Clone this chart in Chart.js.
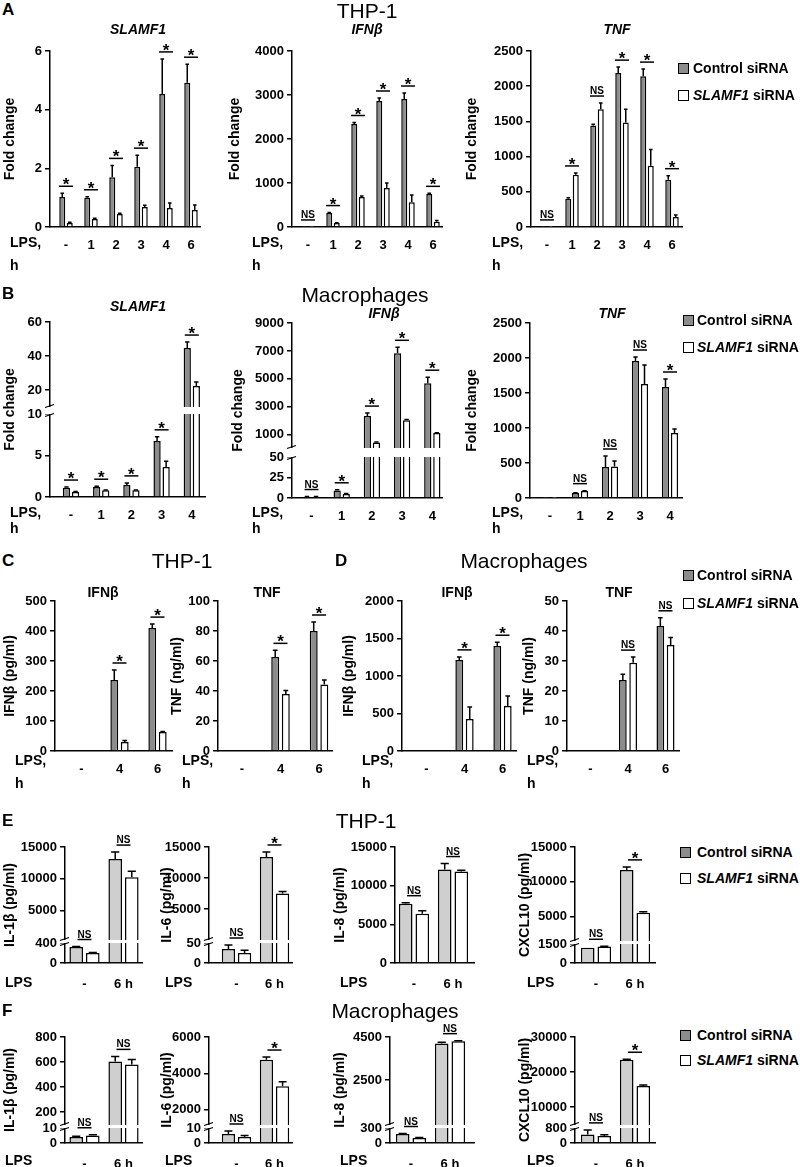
<!DOCTYPE html>
<html><head><meta charset="utf-8">
<script src="https://cdn.jsdelivr.net/npm/chart.js@4/dist/chart.umd.min.js"></script>
<style>
html,body{margin:0;padding:0;background:#fff;}
body{width:800px;height:1167px;position:relative;overflow:hidden;font-family:"Liberation Sans",Arial,sans-serif;color:#000;}
.t{position:absolute;white-space:nowrap;line-height:1;}
.sq{position:absolute;width:11px;height:11px;box-sizing:border-box;border:1.5px solid #000;}
canvas{position:absolute;}
</style></head><body>
<script>
// ---------------- DATA ----------------
// Panel A: THP-1, qPCR fold change
const catsA = ['-', '1', '2', '3', '4', '6'];
const aSlamfCtrl = [1.02, 1.0, 1.7, 2.05, 4.53, 4.92];
const aSlamfCtrlErr = [0.13, 0.03, 0.4, 0.4, 1.2, 0.63];
const aSlamfSi = [0.14, 0.27, 0.44, 0.68, 0.65, 0.58];
const aSlamfSiErr = [0.02, 0.03, 0.03, 0.06, 0.17, 0.17];
const aSlamfSig = ['*', '*', '*', '*', '*', '*'];
const aIfnCtrl = [1, 318, 2340, 2864, 2909, 750];
const aIfnCtrlErr = [0, 10, 35, 68, 136, 15];
const aIfnSi = [1, 90, 682, 886, 560, 120];
const aIfnSiErr = [0, 8, 25, 114, 170, 25];
const aIfnSig = ['NS', '*', '*', '*', '*', '*'];
const aTnfCtrl = [1, 400, 1443, 2186, 2143, 671];
const aTnfCtrlErr = [0, 15, 15, 85, 100, 58];
const aTnfSi = [1, 743, 1671, 1486, 871, 143];
const aTnfSiErr = [0, 25, 90, 185, 229, 28];
const aTnfSig = ['NS', '*', 'NS', '*', '*', '*'];
// Panel B: macrophages, qPCR fold change
const catsB = ['-', '1', '2', '3', '4'];
const bSlamfCtrl = [1.1, 1.2, 1.45, 6.75, 44.7];
const bSlamfCtrlErr = [0.1, 0.1, 0.25, 0.5, 3.5];
const bSlamfSi = [0.6, 0.8, 0.8, 3.6, 22.4];
const bSlamfSiErr = [0.05, 0.05, 0.05, 0.7, 2.3];
const bSlamfSig = ['*', '*', '*', '*', '*'];
const bIfnCtrl = [1.5, 9, 2350, 6840, 4690];
const bIfnCtrlErr = [0.3, 1, 200, 420, 430];
const bIfnSi = [1.5, 5, 450, 2040, 1120];
const bIfnSiErr = [0.3, 0.5, 30, 50, 30];
const bIfnSig = ['NS', '*', '*', '*', '*'];
const bTnfCtrl = [1, 71, 443, 1957, 1586];
const bTnfCtrlErr = [0, 5, 157, 57, 114];
const bTnfSi = [1, 100, 450, 1629, 928];
const bTnfSiErr = [0, 5, 80, 271, 57];
const bTnfSig = ['', 'NS', 'NS', 'NS', '*'];
// Panels C/D: secreted protein
const catsCD = ['-', '4', '6'];
const cIfnCtrl = [0, 237, 410];
const cIfnCtrlErr = [0, 33, 13];
const cIfnSi = [0, 30, 63];
const cIfnSiErr = [0, 5, 2];
const cIfnSig = ['', '*', '*'];
const cTnfCtrl = [0, 62.7, 80];
const cTnfCtrlErr = [0, 4.4, 6];
const cTnfSi = [0, 38, 44.4];
const cTnfSiErr = [0, 2.4, 2.9];
const cTnfSig = ['', '*', '*'];
const dIfnCtrl = [0, 1215, 1400];
const dIfnCtrlErr = [0, 40, 50];
const dIfnSi = [0, 427, 600];
const dIfnSiErr = [0, 160, 133];
const dIfnSig = ['', '*', '*'];
const dTnfCtrl = [0, 23.7, 41.7];
const dTnfCtrlErr = [0, 1.9, 2.7];
const dTnfSi = [0, 29.4, 35.3];
const dTnfSiErr = [0, 1.9, 2.5];
const dTnfSig = ['', 'NS', 'NS'];
// Panel E: THP-1 cytokines
const catsEF = ['-', '6 h'];
const eIl1Ctrl = [320, 13100];
const eIl1CtrlErr = [10, 1100];
const eIl1Si = [200, 10240];
const eIl1SiErr = [10, 950];
const eIl1Sig = ['NS', 'NS'];
const eIl6Ctrl = [35, 13400];
const eIl6CtrlErr = [10, 800];
const eIl6Si = [25, 7540];
const eIl6SiErr = [7, 310];
const eIl6Sig = ['NS', '*'];
const eIl8Ctrl = [7660, 12080];
const eIl8CtrlErr = [140, 780];
const eIl8Si = [6364, 11820];
const eIl8SiErr = [390, 180];
const eIl8Sig = ['NS', 'NS'];
const eCxCtrl = [1200, 11714];
const eCxCtrlErr = [0, 430];
const eCxSi = [1300, 5571];
const eCxSiErr = [20, 120];
const eCxSig = ['NS', '*'];
// Panel F: macrophage cytokines
const fIl1Ctrl = [4, 605];
const fIl1CtrlErr = [0.5, 40];
const fIl1Si = [5, 580];
const fIl1SiErr = [0.5, 40];
const fIl1Sig = ['NS', 'NS'];
const fIl6Ctrl = [6, 4750];
const fIl6CtrlErr = [2, 150];
const fIl6Si = [4, 3300];
const fIl6SiErr = [1, 250];
const fIl6Sig = ['NS', '*'];
const fIl8Ctrl = [180, 4200];
const fIl8CtrlErr = [10, 50];
const fIl8Si = [100, 4300];
const fIl8SiErr = [10, 30];
const fIl8Sig = ['NS', 'NS'];
const fCxCtrl = [450, 23500];
const fCxCtrlErr = [250, 150];
const fCxSi = [380, 16000];
const fCxSiErr = [60, 300];
const fCxSig = ['NS', '*'];
// Tick values
const ticksA1 = [0, 2, 4, 6];
const ticksA2 = [0, 1000, 2000, 3000, 4000];
const ticksA3 = [0, 500, 1000, 1500, 2000, 2500];
const ticksB1 = [0, 5, 10, 20, 40, 60];
const ticksB2 = [0, 25, 50, 1000, 3000, 5000, 7000, 9000];
const ticksB3 = [0, 500, 1000, 1500, 2000, 2500];
const ticksC1 = [0, 100, 200, 300, 400, 500];
const ticksC2 = [0, 20, 40, 60, 80, 100];
const ticksD1 = [0, 500, 1000, 1500, 2000];
const ticksD2 = [0, 10, 20, 30, 40, 50];
const ticksE1 = [0, 400, 5000, 10000, 15000];
const ticksE2 = [0, 50, 5000, 10000, 15000];
const ticksE3 = [0, 5000, 10000, 15000];
const ticksE4 = [0, 1500, 5000, 10000, 15000];
const ticksF1 = [0, 10, 200, 400, 600, 800];
const ticksF2 = [0, 10, 2000, 4000, 6000];
const ticksF3 = [0, 300, 2500, 4500];
const ticksF4 = [0, 800, 10000, 20000, 30000];

// ---------------- LIBRARY EXTENSIONS ----------------
Chart.defaults.font.family = '"Liberation Sans", Arial, sans-serif';
Chart.defaults.color = '#000';

class BrokenLinear extends Chart.LinearScale {
  _dec(v) {
    const b = this.options.brk;
    if (!b) return (v - this.min) / (this.max - this.min);
    if (v <= b.lowMax) return v / b.lowMax * b.lowFrac;
    if (v <= b.highMin) return b.lowFrac + (v - b.lowMax) / (b.highMin - b.lowMax) * (b.highFrac - b.lowFrac);
    return b.highFrac + (v - b.highMin) / (this.max - b.highMin) * (1 - b.highFrac);
  }
  getPixelForValue(value) {
    if (value === null || value === undefined || isNaN(value)) return NaN;
    return this.getPixelForDecimal(this._dec(value));
  }
}
BrokenLinear.id = 'brokenLinear';
BrokenLinear.defaults = Chart.LinearScale.defaults;

class PlacedCategory extends Chart.CategoryScale {
  getPixelForValue(value) {
    if (typeof value !== 'number') value = this.parse(value);
    if (value === null || value === undefined) return NaN;
    return this.left + this.options.c0 + value * this.options.step;
  }
}
PlacedCategory.id = 'placedCategory';
PlacedCategory.defaults = Chart.CategoryScale.defaults;
Chart.register(BrokenLinear, PlacedCategory);

function decor(c) {
  return {
    id: 'decor',
    afterDatasetsDraw(chart) {
      const ctx = chart.ctx, y = chart.scales.y, a = chart.chartArea;
      const vals = [c.ctrl, c.si], errs = [c.ctrlErr, c.siErr];
      ctx.save();
      if (c.brk) {
        const yl = y.getPixelForDecimal(c.brk.lowFrac);
        const yh = y.getPixelForDecimal(c.brk.highFrac);
        ctx.fillStyle = '#fff';
        ctx.fillRect(a.left - 7, yh, a.right - a.left + 12, yl - yh);
        ctx.strokeStyle = '#000'; ctx.lineWidth = 1.3;
        [yl + 1, yh - 1].forEach(yy => {
          ctx.beginPath(); ctx.moveTo(a.left - 5, yy + 1.5); ctx.lineTo(a.left + 4, yy - 1.5); ctx.stroke();
        });
      }
      ctx.strokeStyle = '#000'; ctx.lineWidth = 1.5;
      for (let d = 0; d < 2; d++) {
        const meta = chart.getDatasetMeta(d);
        meta.data.forEach((el, i) => {
          const e = errs[d][i];
          if (!e || vals[d][i] === null) return;
          const yt = y.getPixelForValue(vals[d][i] + e);
          const cw = el.width * 0.3;
          ctx.beginPath(); ctx.moveTo(el.x, el.y); ctx.lineTo(el.x, yt);
          ctx.moveTo(el.x - cw, yt); ctx.lineTo(el.x + cw, yt); ctx.stroke();
        });
      }
      const m0 = chart.getDatasetMeta(0), m1 = chart.getDatasetMeta(1);
      c.sig.forEach((s, i) => {
        if (!s) return;
        let top = Infinity;
        for (let d = 0; d < 2; d++) top = Math.min(top, y.getPixelForValue((vals[d][i] || 0) + (errs[d][i] || 0)));
        const ly = top - (c.sigGap || 7);
        const cx = (m0.data[i].x + m1.data[i].x) / 2;
        const hw = 7;
        ctx.beginPath(); ctx.moveTo(cx - hw, ly); ctx.lineTo(cx + hw, ly); ctx.stroke();
        ctx.fillStyle = '#000'; ctx.textAlign = 'center'; ctx.textBaseline = 'alphabetic';
        if (s === '*') { ctx.font = 'bold 17px "Liberation Sans", Arial, sans-serif'; ctx.fillText('*', cx, ly + 4); }
        else { ctx.font = 'bold 10px "Liberation Sans", Arial, sans-serif'; ctx.fillText(s, cx, ly - 2); }
      });
      ctx.restore();
    }
  };
}

function makeChart(c) {
  const padT = 30, padR = 12, hx = 34;
  const left = Math.round(c.yt - 8.4);
  const topC = c.top - padT;
  const W = Math.round(c.x1 + padR - left);
  const H = Math.round(c.base - c.top + padT + hx);
  const cv = document.createElement('canvas');
  cv.width = W; cv.height = H;
  cv.style.left = left + 'px'; cv.style.top = topC + 'px';
  cv.style.width = W + 'px'; cv.style.height = H + 'px';
  document.body.appendChild(cv);
  const yW = c.x0 - left;
  const tickVals = c.ticks;
  new Chart(cv.getContext('2d'), {
    type: 'bar',
    data: {
      labels: c.cats,
      datasets: [
        {data: c.ctrl, backgroundColor: c.light ? '#cfcfcf' : '#8c8c8c', borderColor: '#000', borderWidth: 1.5, categoryPercentage: c.cp, barPercentage: c.bp},
        {data: c.si, backgroundColor: '#ffffff', borderColor: '#000', borderWidth: 1.5, categoryPercentage: c.cp, barPercentage: c.bp}
      ]
    },
    options: {
      responsive: false, animation: false, events: [], devicePixelRatio: 1,
      layout: {padding: {left: 0, right: padR, top: padT, bottom: 0}},
      plugins: {legend: {display: false}, tooltip: {enabled: false}, title: {display: false}},
      scales: {
        x: {
          type: 'placedCategory', c0: c.c0, step: c.step,
          grid: {display: false}, border: {display: true, color: '#000', width: 1.5},
          ticks: {font: {size: 13, weight: 'bold'}, color: '#000', padding: c.xpad, maxRotation: 0, autoSkip: false},
          afterFit: s => { s.height = hx; }
        },
        y: {
          type: 'brokenLinear', min: 0, max: tickVals[tickVals.length - 1], bounds: 'data', brk: c.brk || null,
          afterBuildTicks: s => { s.ticks = tickVals.map(v => ({value: v})); },
          ticks: {callback: (v, i) => String(tickVals[i]), font: {size: 13, weight: 'bold'}, color: '#000', padding: 3},
          grid: {drawOnChartArea: false, drawTicks: true, tickLength: 5, color: '#000', lineWidth: 1.5},
          border: {display: true, color: '#000', width: 1.5},
          title: {display: true, text: c.yTitle, font: {size: 14, weight: 'bold'}, color: '#000', padding: 0},
          afterFit: s => { s.width = yW; }
        }
      }
    },
    plugins: [decor(c)]
  });
}

function txt(s, x, y, o) {
  o = o || {};
  const d = document.createElement('div');
  d.className = 't'; d.innerHTML = s;
  d.style.left = x + 'px'; d.style.top = y + 'px';
  d.style.fontSize = (o.size || 14) + 'px';
  d.style.fontWeight = o.normal ? 'normal' : 'bold';
  if (o.italic) d.style.fontStyle = 'italic';
  d.style.transform = o.center ? 'translate(-50%,-50%)' : 'translateY(-50%)';
  document.body.appendChild(d);
}
function legend(sx, tx, y1, y2) {
  [[y1, '#8c8c8c', 'Control siRNA'], [y2, '#fff', '<i>SLAMF1</i> siRNA']].forEach(([y, col, label]) => {
    const q = document.createElement('div'); q.className = 'sq';
    q.style.left = sx + 'px'; q.style.top = (y - 5.5) + 'px'; q.style.background = col;
    document.body.appendChild(q);
    txt(label, tx, y, {size: 14});
  });
}
function lps(x, y1, y2) { txt('LPS,', x, y1, {size: 14}); txt('h', x, y2, {size: 14}); }

// ---------------- LAYOUT ----------------
const A = {cp: 0.6, bp: 0.8, cats: catsA, top: 51, base: 227, c0: 16, step: 25, yTitle: 'Fold change', xpad: 3};
const Bc = {cp: 0.6, bp: 0.8, cats: catsB, top: 322, base: 497, c0: 20, step: 30.2, yTitle: 'Fold change', xpad: 3};
const CD = {cp: 0.55, bp: 0.75, cats: catsCD, top: 601, base: 751, xpad: 3};
const E = {cp: 0.85, bp: 0.82, cats: catsEF, top: 847, base: 963, light: true, xpad: 6};
const F = {cp: 0.85, bp: 0.82, cats: catsEF, top: 1037, base: 1143, light: true, xpad: 6};

const charts = [
  Object.assign({}, A, {x0: 50, x1: 200, yt: 10, ctrl: aSlamfCtrl, ctrlErr: aSlamfCtrlErr, si: aSlamfSi, siErr: aSlamfSiErr, sig: aSlamfSig, ticks: ticksA1}),
  Object.assign({}, A, {x0: 292, x1: 442, yt: 235, ctrl: aIfnCtrl, ctrlErr: aIfnCtrlErr, si: aIfnSi, siErr: aIfnSiErr, sig: aIfnSig, ticks: ticksA2}),
  Object.assign({}, A, {x0: 531, x1: 682, yt: 472, ctrl: aTnfCtrl, ctrlErr: aTnfCtrlErr, si: aTnfSi, siErr: aTnfSiErr, sig: aTnfSig, ticks: ticksA3}),
  Object.assign({}, Bc, {x0: 50, x1: 205, yt: 10, c0: 21, ctrl: bSlamfCtrl, ctrlErr: bSlamfCtrlErr, si: bSlamfSi, siErr: bSlamfSiErr, sig: bSlamfSig, ticks: ticksB1,
    brk: {lowMax: 10, highMin: 10, lowFrac: 83 / 175, highFrac: 90 / 175}}),
  Object.assign({}, Bc, {x0: 292, x1: 442, top: 323, base: 498, yt: 238, c0: 19.5, ctrl: bIfnCtrl, ctrlErr: bIfnCtrlErr, si: bIfnSi, siErr: bIfnSiErr, sig: bIfnSig, ticks: ticksB2,
    brk: {lowMax: 50, highMin: 50, lowFrac: 41 / 175, highFrac: 50 / 175}}),
  Object.assign({}, Bc, {x0: 530, x1: 682, top: 323, base: 498, yt: 472, c0: 20, step: 30, ctrl: bTnfCtrl, ctrlErr: bTnfCtrlErr, si: bTnfSi, siErr: bTnfSiErr, sig: bTnfSig, ticks: ticksB3}),
  Object.assign({}, CD, {x0: 55, x1: 172, yt: 10, c0: 26.5, step: 38, ctrl: cIfnCtrl, ctrlErr: cIfnCtrlErr, si: cIfnSi, siErr: cIfnSiErr, sig: cIfnSig, ticks: ticksC1, yTitle: 'IFNβ (pg/ml)'}),
  Object.assign({}, CD, {x0: 218, x1: 332, yt: 177, c0: 24, step: 38.5, ctrl: cTnfCtrl, ctrlErr: cTnfCtrlErr, si: cTnfSi, siErr: cTnfSiErr, sig: cTnfSig, ticks: ticksC2, yTitle: 'TNF (ng/ml)'}),
  Object.assign({}, CD, {x0: 402, x1: 516, yt: 349, c0: 24.5, step: 38, ctrl: dIfnCtrl, ctrlErr: dIfnCtrlErr, si: dIfnSi, siErr: dIfnSiErr, sig: dIfnSig, ticks: ticksD1, yTitle: 'IFNβ (pg/ml)'}),
  Object.assign({}, CD, {x0: 567, x1: 679, yt: 529, c0: 23.5, step: 37.5, ctrl: dTnfCtrl, ctrlErr: dTnfCtrlErr, si: dTnfSi, siErr: dTnfSiErr, sig: dTnfSig, ticks: ticksD2, yTitle: 'TNF (ng/ml)'}),
  Object.assign({}, E, {x0: 65, x1: 142, yt: 10, c0: 19.5, step: 39, ctrl: eIl1Ctrl, ctrlErr: eIl1CtrlErr, si: eIl1Si, siErr: eIl1SiErr, sig: eIl1Sig, ticks: ticksE1, yTitle: 'IL-1β (pg/ml)',
    brk: {lowMax: 400, highMin: 400, lowFrac: 20 / 116, highFrac: 23 / 116}}),
  Object.assign({}, E, {x0: 209, x1: 292, yt: 167, c0: 27.5, step: 38, ctrl: eIl6Ctrl, ctrlErr: eIl6CtrlErr, si: eIl6Si, siErr: eIl6SiErr, sig: eIl6Sig, ticks: ticksE2, yTitle: 'IL-6 (pg/ml)',
    brk: {lowMax: 50, highMin: 50, lowFrac: 20 / 116, highFrac: 23 / 116}}),
  Object.assign({}, E, {x0: 395, x1: 474, yt: 340, c0: 19, step: 39, ctrl: eIl8Ctrl, ctrlErr: eIl8CtrlErr, si: eIl8Si, siErr: eIl8SiErr, sig: eIl8Sig, ticks: ticksE3, yTitle: 'IL-8 (pg/ml)'}),
  Object.assign({}, E, {x0: 575, x1: 655, yt: 525, c0: 21, step: 39, ctrl: eCxCtrl, ctrlErr: eCxCtrlErr, si: eCxSi, siErr: eCxSiErr, sig: eCxSig, ticks: ticksE4, yTitle: 'CXCL10 (pg/ml)',
    brk: {lowMax: 1500, highMin: 1500, lowFrac: 19 / 116, highFrac: 22 / 116}}),
  Object.assign({}, F, {x0: 65, x1: 142, yt: 10, c0: 19.5, step: 39, ctrl: fIl1Ctrl, ctrlErr: fIl1CtrlErr, si: fIl1Si, siErr: fIl1SiErr, sig: fIl1Sig, ticks: ticksF1, yTitle: 'IL-1β (pg/ml)',
    brk: {lowMax: 10, highMin: 96, lowFrac: 15 / 106, highFrac: 18 / 106}}),
  Object.assign({}, F, {x0: 209, x1: 292, yt: 167, c0: 27.5, step: 38, ctrl: fIl6Ctrl, ctrlErr: fIl6CtrlErr, si: fIl6Si, siErr: fIl6SiErr, sig: fIl6Sig, ticks: ticksF2, yTitle: 'IL-6 (pg/ml)',
    brk: {lowMax: 10, highMin: 1170, lowFrac: 15 / 106, highFrac: 18 / 106}}),
  Object.assign({}, F, {x0: 390, x1: 474, yt: 340, c0: 21, step: 39, ctrl: fIl8Ctrl, ctrlErr: fIl8CtrlErr, si: fIl8Si, siErr: fIl8SiErr, sig: fIl8Sig, ticks: ticksF3, yTitle: 'IL-8 (pg/ml)',
    brk: {lowMax: 300, highMin: 400, lowFrac: 15 / 106, highFrac: 18 / 106}}),
  Object.assign({}, F, {x0: 575, x1: 655, yt: 525, c0: 21, step: 39, ctrl: fCxCtrl, ctrlErr: fCxCtrlErr, si: fCxSi, siErr: fCxSiErr, sig: fCxSig, ticks: ticksF4, yTitle: 'CXCL10 (pg/ml)',
    brk: {lowMax: 800, highMin: 4857, lowFrac: 15 / 106, highFrac: 18 / 106}})
];
charts.forEach(makeChart);

// ---------------- TEXT ----------------
txt('A', 2, 9, {size: 17});
txt('THP-1', 367, 10, {size: 21, normal: true, center: true});
txt('SLAMF1', 138, 29, {italic: true, center: true});
txt('IFNβ', 367, 29, {italic: true, center: true});
txt('TNF', 617, 29, {italic: true, center: true});
legend(678, 693, 68, 95);
lps(10, 242, 265); lps(252, 242, 265); lps(492, 242, 265);

txt('B', 2, 293, {size: 17});
txt('Macrophages', 365, 294, {size: 21, normal: true, center: true});
txt('SLAMF1', 138, 306, {italic: true, center: true});
txt('IFNβ', 384, 313, {italic: true, center: true});
txt('TNF', 612, 313, {italic: true, center: true});
legend(683, 697, 320, 347);
lps(10, 512, 528); lps(252, 512, 528); lps(492, 512, 528);

txt('C', 2, 560, {size: 17});
txt('THP-1', 182, 560, {size: 21, normal: true, center: true});
txt('D', 335, 560, {size: 17});
txt('Macrophages', 524, 560, {size: 21, normal: true, center: true});
legend(683, 697, 575, 603);
txt('IFNβ', 103, 592, {center: true});
txt('TNF', 267, 592, {center: true});
txt('IFNβ', 457, 592, {center: true});
txt('TNF', 619, 592, {center: true});
lps(15, 760, 783); lps(182, 760, 783); lps(362, 760, 783); lps(527, 760, 783);

txt('E', 2, 820, {size: 17});
txt('THP-1', 366, 820, {size: 21, normal: true, center: true});
legend(680, 697, 852, 878);
txt('LPS', 5, 982); txt('LPS', 165, 982); txt('LPS', 340, 982); txt('LPS', 527, 982);

txt('F', 2, 1010, {size: 17});
txt('Macrophages', 395, 1010, {size: 21, normal: true, center: true});
legend(680, 697, 1035, 1060);
txt('LPS', 5, 1160); txt('LPS', 165, 1160); txt('LPS', 340, 1160); txt('LPS', 527, 1160);
</script>
</body></html>
